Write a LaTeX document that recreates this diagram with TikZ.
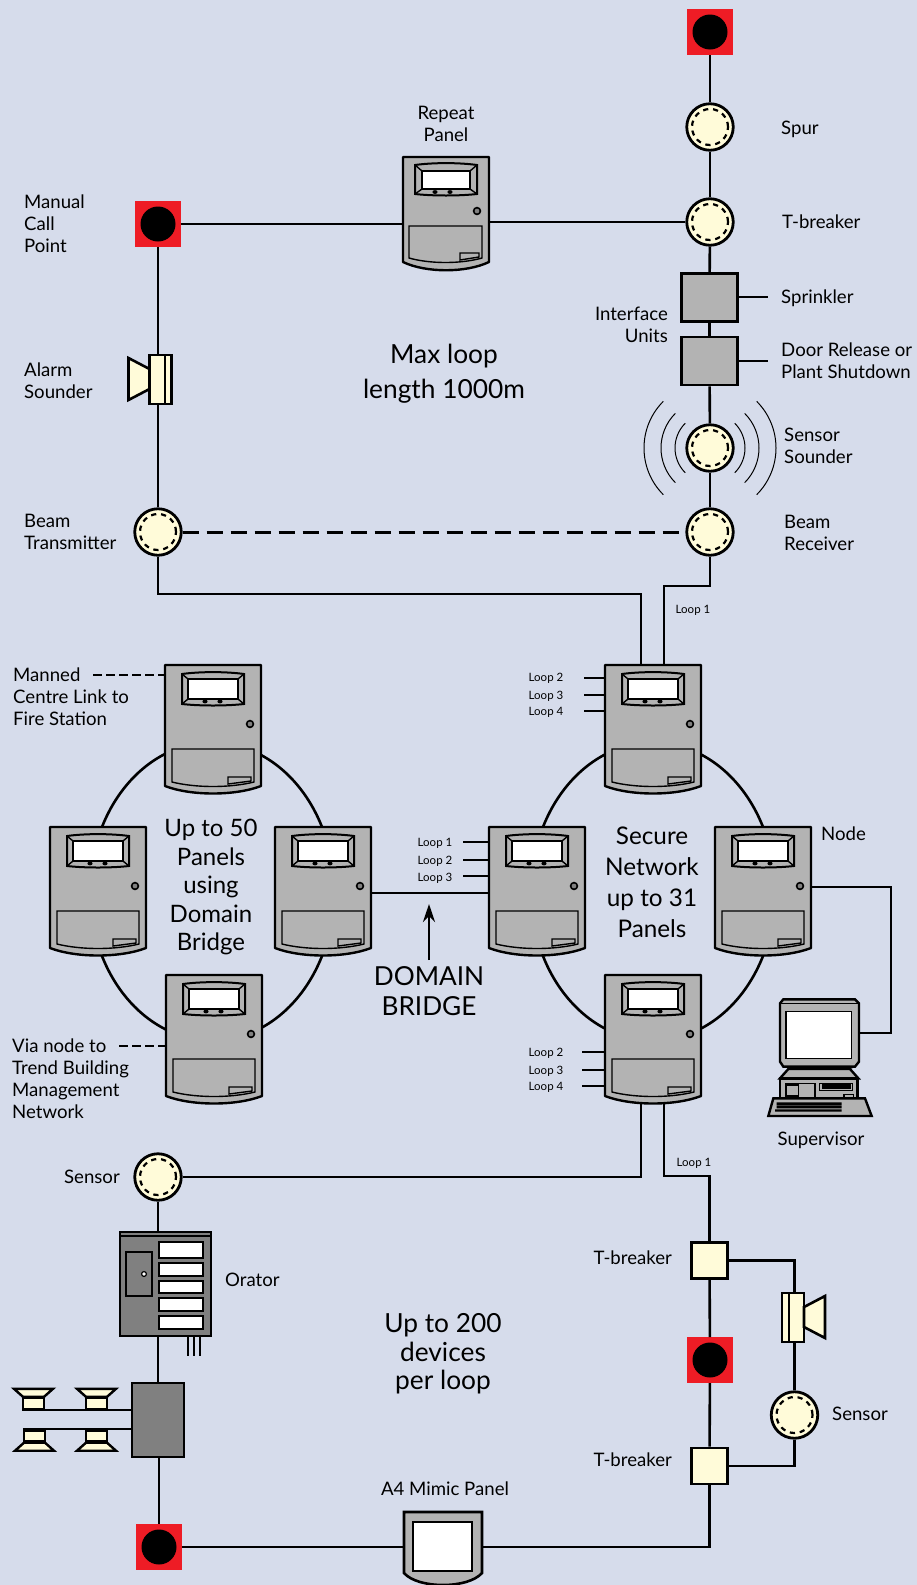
\documentclass[tikz,border=0pt]{standalone}
\usepackage{fontspec}
\setmainfont{Lato}
\usetikzlibrary{positioning,arrows.meta}

\definecolor{paper}{HTML}{D6DCEB}
\definecolor{cream}{HTML}{FFFBD9}
\definecolor{firered}{HTML}{EE1C25}
\definecolor{panelgrey}{HTML}{B3B3B3}
\definecolor{darkgrey}{HTML}{808080}

\tikzset{
    wire/.style={line width=2.6pt},
    dashwire/.style={line width=2.4pt,dash pattern=on 9pt off 4pt},
    beamwire/.style={line width=3pt,dash pattern=on 16pt off 8pt},
    lbl/.style={font=\fontsize{18.6}{22}\selectfont,align=left,anchor=west,inner sep=0pt},
    rlbl/.style={font=\fontsize{18.6}{22}\selectfont,align=right,anchor=east,inner sep=0pt},
    clbl/.style={font=\fontsize{18.6}{22}\selectfont,align=center,inner sep=0pt},
    looplbl/.style={font=\fontsize{11.5}{13}\selectfont,inner sep=0pt},
    bigtxt/.style={font=\fontsize{26.3}{29}\selectfont,align=center,inner sep=0pt},
    sensor/.style={circle,draw,line width=2.8pt,fill=cream,minimum size=46.5pt,inner sep=0pt,
        path picture={\draw[line width=2.2pt,dash pattern=on 5.2pt off 4.8pt] (path picture bounding box.center) circle (18pt);}},
    callpoint/.style={rectangle,fill=firered,minimum size=46pt,inner sep=0pt,outer sep=0pt,
        path picture={\fill[black] (path picture bounding box.center) circle (17.5pt);}},
    ifacebox/.style={rectangle,draw,line width=2.6pt,fill=panelgrey,minimum width=56pt,minimum height=48pt,inner sep=0pt},
    tbreaker/.style={rectangle,draw,line width=2.8pt,fill=cream,minimum size=36pt,inner sep=0pt},
    panelbox/.style={rectangle,minimum width=96pt,minimum height=128pt,inner sep=0pt,outer sep=0pt},
    hornbox/.style={rectangle,draw,line width=2.6pt,fill=cream,minimum width=22pt,minimum height=49pt,inner sep=0pt},
    spkbox/.style={rectangle,draw,line width=2.4pt,fill=cream,minimum width=21pt,minimum height=11pt,inner sep=0pt},
    panelart/.pic={
        \draw[line width=2.4pt,fill=panelgrey,line join=round] (0,0) -- (96,0) -- (96,121) .. controls (70,131) and (26,131) .. (0,121) -- cycle;
        \draw[line width=2pt,fill=panelgrey] (17,9) .. controls (35,6.5) and (61,6.5) .. (79,9) -- (79,39) .. controls (61,41) and (35,41) .. (17,39) -- cycle;
        \draw[line width=1.4pt,fill=white] (23,14) rectangle (73,34);
        \draw[line width=1.4pt] (17,9) -- (23,14) (79,9) -- (73,14) (17,39) -- (23,34) (79,39) -- (73,34);
        \fill (40,36.5) ellipse (2.6 and 1.9) (55,36.5) ellipse (2.6 and 1.9);
        \draw[line width=1.6pt,fill=darkgrey] (85,59) circle (3.4pt);
        \draw[line width=1.4pt] (7,84) -- (89,84) -- (89,117) .. controls (65,123) and (31,123) .. (7,117) -- cycle;
        \draw[line width=1.4pt] (63,112) -- (86,112) -- (86,116) -- (63,119) -- cycle;
    },
    repeatart/.pic={
        \draw[line width=2.4pt,fill=panelgrey,line join=round] (0,0) -- (86,0) -- (86,105) .. controls (63,116) and (23,116) .. (0,105) -- cycle;
        \draw[line width=2pt,fill=panelgrey] (12,8) .. controls (30,5.5) and (56,5.5) .. (74,8) -- (74,37) .. controls (56,39) and (30,39) .. (12,37) -- cycle;
        \draw[line width=1.4pt,fill=white] (19,14) rectangle (67,32);
        \draw[line width=1.4pt] (12,8) -- (19,14) (74,8) -- (67,14) (12,37) -- (19,32) (74,37) -- (67,32);
        \fill (32,35) ellipse (2.6 and 1.9) (47,35) ellipse (2.6 and 1.9);
        \draw[line width=1.6pt,fill=darkgrey] (74,54) circle (3.4pt);
        \draw[line width=1.4pt] (6,69) -- (79,69) -- (79,101) .. controls (58,107) and (27,107) .. (6,101) -- cycle;
        \draw[line width=1.4pt] (57,96) -- (76,96) -- (76,100) -- (57,103) -- cycle;
    },
    hornart/.pic={
        \draw[line width=2.6pt,fill=cream,line join=miter] (11,-10.5) -- (32,-21.5) -- (32,20.5) -- (11,9.5) -- cycle;
        \draw[line width=2pt] (-4,-24.5) -- (-4,24.5);
    },
    spkart/.pic={
        \draw[line width=2.4pt,fill=cream,line join=miter] (-10.5,0) -- (-19.5,-8) -- (19.5,-8) -- (10.5,0) -- cycle;
    },
    pcart/.pic={
        \draw[line width=2pt,fill=panelgrey] (80,230) .. controls (120,250) and (240,250) .. (280,230);
        \draw[line width=2pt] (117,232) -- (117,240) (235,232) -- (235,240);
        \draw[line width=2.4pt,fill=panelgrey] (60,40) -- (70,28) -- (285,28) -- (297,40) -- (297,215) -- (285,230) -- (70,230) -- (60,215) -- cycle;
        \draw[line width=1.6pt] (60,40) -- (297,40);
        \draw[line width=1.6pt,fill=white] (78,65) rectangle (275,205);
        \draw[line width=2.4pt,fill=panelgrey] (60,265) -- (85,237) -- (270,237) -- (295,265) -- cycle;
        \draw[line width=2.4pt,fill=panelgrey] (60,265) rectangle (292,325);
        \draw[line width=1.5pt] (78,280) rectangle (165,322) (80,285) rectangle (115,318);
        \draw[line width=1.5pt] (178,280) rectangle (278,302);
        \fill (185,283) rectangle (272,298);
        \draw[line width=1.5pt] (252,313) rectangle (280,323);
        \draw[line width=2.4pt,fill=panelgrey] (40,325) -- (315,325) -- (335,378) -- (25,378) -- cycle;
        \fill (50,337) rectangle (245,345) (50,347) rectangle (245,355) (45,358) rectangle (245,365);
    },
    oratorart/.pic={
        \draw[line width=1.4pt] (-45.5,-48) -- (45.5,-48);
        \draw[line width=1.6pt] (-39.5,-32) rectangle (-13.5,12);
        \draw[line width=1.2pt,fill=white] (-21.5,-10) circle (2.4pt);
        \draw[line width=1.4pt,fill=white] (-6.5,-42) rectangle (37.5,-26);
        \draw[line width=1.4pt,fill=white] (-6.5,-21) rectangle (37.5,-8);
        \draw[line width=1.4pt,fill=white] (-6.5,-3) rectangle (37.5,9);
        \draw[line width=1.4pt,fill=white] (-6.5,14) rectangle (37.5,27);
        \draw[line width=1.4pt,fill=white] (-6.5,32) rectangle (37.5,45);
    }
}

\newcommand{\panelat}[3]{\node[panelbox] (#1) at (#2,#3) {}; \pic at (#1.north west) {panelart};}

\begin{document}
\begin{tikzpicture}[x=1pt,y=-1pt]
    \useasboundingbox (0,0) rectangle (917,1585);
    \fill[paper] (0,0) rectangle (917,1585);
    % rings behind the panels
    \draw[wire] (212,891.5) ellipse (122 and 149);
    \draw[wire] (653,891.5) ellipse (122 and 149);
    % upper loop
    \node[callpoint] (mcpTop) at (710,32) {};
    \node[sensor] (spurSensor) at (710,127) {};
    \node[sensor] (tbSensor) at (710,222) {};
    \node[ifacebox] (sprinkler) at (709.5,297.5) {};
    \node[ifacebox] (doorRel) at (709.5,361) {};
    \node[sensor] (sndSensor) at (710,448) {};
    \node[sensor] (beamRx) at (710,532) {};
    \node[sensor] (beamTx) at (158,532) {};
    \node[callpoint] (mcpLeft) at (158,224) {};
    \node[panelbox,minimum width=86pt,minimum height=112pt] (repeatPanel) at (446,213) {};
    \pic at (repeatPanel.north west) {repeatart};
    \node[hornbox] (alarmSnd) at (160.5,379.5) {};
    \pic[xscale=-1] at (alarmSnd) {hornart};
    \draw[wire] (mcpTop) -- (spurSensor);
    \draw[wire] (spurSensor) -- (tbSensor);
    \draw[wire] (tbSensor) -- (sprinkler);
    \draw[wire] (sprinkler) -- (doorRel);
    \draw[wire] (doorRel) -- (sndSensor);
    \draw[wire] (sndSensor) -- (beamRx);
    \draw[wire] (tbSensor) -- (repeatPanel.east |- tbSensor);
    \draw[wire] (repeatPanel.west |- mcpLeft) -- (mcpLeft);
    \draw[wire] (mcpLeft) -- (alarmSnd.north -| mcpLeft);
    \draw[wire] (alarmSnd.south -| mcpLeft) -- (beamTx);
    \draw[beamwire] (beamTx) -- (beamRx);
    % sounder waves
    \foreach \r in {35,49,66}{
        \draw[line width=1pt] (sndSensor.center) ++(45:\r pt) arc[start angle=45,end angle=-45,radius=\r pt];
        \draw[line width=1pt] (sndSensor.center) ++(135:\r pt) arc[start angle=135,end angle=225,radius=\r pt];
    }
    % panels
    \panelat{panTL}{213}{729}
    \panelat{panLL}{98}{891}
    \panelat{panLR}{323}{891}
    \panelat{panLB}{214}{1039}
    \panelat{panRT}{653}{729}
    \panelat{panRL}{537}{891}
    \panelat{panRR}{763}{891}
    \panelat{panRB}{653}{1039}
    % wires to the secure network
    \coordinate (feedA) at (641,594);
    \coordinate (feedB) at (664,586);
    \draw[wire] (beamTx) |- (feedA) -- (feedA |- panRT.north);
    \draw[wire] (beamRx) |- (feedB) -- (feedB |- panRT.north);
    \draw[wire] ([yshift=-2pt]panLR.east) -- ([yshift=-2pt]panRL.west);
    \coordinate (arrowEnd) at (429,960);
    \draw[wire,-{Stealth[length=18pt,width=12pt]}] (arrowEnd) -- (429,904);
    % loop ticks
    \node[looplbl] (loopA) at (693,610) {Loop 1};
    \node[looplbl] (loopB) at (546,678) {Loop 2};
    \node[looplbl] (loopC) at (546,696) {Loop 3};
    \node[looplbl] (loopD) at (546,712) {Loop 4};
    \node[looplbl] (loopE) at (435,843) {Loop 1};
    \node[looplbl] (loopF) at (435,861) {Loop 2};
    \node[looplbl] (loopG) at (435,878) {Loop 3};
    \node[looplbl] (loopH) at (546,1053) {Loop 2};
    \node[looplbl] (loopI) at (546,1071) {Loop 3};
    \node[looplbl] (loopJ) at (546,1087) {Loop 4};
    \node[looplbl] (loopK) at (694,1163) {Loop 1};
    \coordinate (tickB) at (584,678);
    \coordinate (tickC) at (584,695);
    \coordinate (tickD) at (584,711);
    \coordinate (tickE) at (463,842);
    \coordinate (tickF) at (463,860);
    \coordinate (tickG) at (463,876);
    \coordinate (tickH) at (582,1052);
    \coordinate (tickI) at (582,1070);
    \coordinate (tickJ) at (582,1086);
    \draw[wire] (tickB) -- (tickB -| panRT.west);
    \draw[wire] (tickC) -- (tickC -| panRT.west);
    \draw[wire] (tickD) -- (tickD -| panRT.west);
    \draw[wire] (tickE) -- (tickE -| panRL.west);
    \draw[wire] (tickF) -- (tickF -| panRL.west);
    \draw[wire] (tickG) -- (tickG -| panRL.west);
    \draw[wire] (tickH) -- (tickH -| panRB.west);
    \draw[wire] (tickI) -- (tickI -| panRB.west);
    \draw[wire] (tickJ) -- (tickJ -| panRB.west);
    % supervisor
    \node[panelbox,minimum width=79pt,minimum height=68pt] (pcBox) at (819.5,1033) {};
    \pic[scale=.3333] at (760,990) {pcart};
    \coordinate (nodeBend) at (891,887);
    \draw[wire] (nodeBend -| panRR.east) -- (nodeBend) |- (pcBox.east);
    % lower loop
    \node[sensor] (sensorB) at (158,1177) {};
    \node[rectangle,draw,line width=2.6pt,fill=darkgrey,minimum width=91pt,minimum height=104pt,inner sep=0pt] (orator) at (165.5,1284) {};
    \pic at (orator) {oratorart};
    \draw[line width=1.8pt] (188,1336) -- (188,1356) (194,1336) -- (194,1356) (200,1336) -- (200,1356);
    \node[rectangle,draw,line width=2.6pt,fill=darkgrey,minimum width=52pt,minimum height=74pt,inner sep=0pt] (driver) at (158,1420) {};
    \node[spkbox] (spkA) at (33.5,1403.5) {};
    \node[spkbox] (spkB) at (96.5,1403.5) {};
    \node[spkbox] (spkC) at (34.5,1436) {};
    \node[spkbox] (spkD) at (96.5,1436) {};
    \pic at (spkA.north) {spkart};
    \pic at (spkB.north) {spkart};
    \pic[yscale=-1] at (spkC.south) {spkart};
    \pic[yscale=-1] at (spkD.south) {spkart};
    \draw[line width=2pt] (spkA.south west) -- (spkA.south west -| driver.west);
    \draw[line width=2pt] (spkC.north west) -- (spkC.north west -| driver.west);
    \node[callpoint] (mcpBase) at (159,1547) {};
    \node[panelbox,minimum width=78pt,minimum height=68pt] (mimic) at (443,1546) {};
    \draw[line width=2.6pt,fill=panelgrey] (mimic.north west) -- (mimic.north east) -- (482,1573) .. controls (468,1589) and (418,1589) .. (404,1573) -- cycle;
    \draw[line width=1.4pt,fill=white] (413,1522) rectangle (472,1571);
    \node[tbreaker] (tbA) at (709.5,1260.5) {};
    \node[callpoint] (mcpRight) at (710,1360) {};
    \node[tbreaker] (tbB) at (709.5,1466) {};
    \node[hornbox] (hornB) at (793,1317.5) {};
    \pic at (hornB) {hornart};
    \node[sensor] (sensorC) at (794.5,1415) {};
    \coordinate (feedC) at (641,1177);
    \coordinate (feedD) at (664,1176);
    \draw[wire] (feedC |- panRB.south) -- (feedC) -- (sensorB);
    \draw[wire] (feedD |- panRB.south) |- (feedD -| tbA) -- (tbA);
    \draw[wire] (tbA) -- (mcpRight);
    \draw[wire] (mcpRight) -- (tbB);
    \draw[wire] (tbA) -| (hornB.north -| sensorC);
    \draw[wire] (hornB.south -| sensorC) -- (sensorC);
    \draw[wire] (sensorC) |- (tbB);
    \draw[wire] (sensorB) -- (orator.north -| sensorB);
    \draw[wire] (orator.south -| sensorB) -- (driver);
    \draw[wire] (driver.south -| mcpBase) -- (mcpBase);
    \draw[wire] (mcpBase) -- (mimic.west |- mcpBase);
    \draw[wire] (mimic.east |- mcpBase) -- (mcpBase -| tbB) -- (tbB);
    % side ticks
    \coordinate (tickM) at (93,675);
    \coordinate (tickV) at (119,1046);
    \draw[dashwire] (tickM) -- (tickM -| panTL.west);
    \draw[dashwire] (tickV) -- (tickV -| panLB.west);
    \coordinate (tickS) at (768,297);
    \coordinate (tickR) at (768,361);
    \draw[wire] (sprinkler.east |- tickS) -- (tickS);
    \draw[wire] (doorRel.east |- tickR) -- (tickR);
    % labels
    \node[lbl] (txtManual) at (24,224) {Manual\\Call\\Point};
    \node[clbl] (txtRepeat) at (446,124) {Repeat\\Panel};
    \node[lbl] (txtSpur) at (781,129) {Spur};
    \node[lbl] (txtTb) at (782,222) {T-breaker};
    \node[lbl] (txtSprk) at (781,298) {Sprinkler};
    \node[lbl] (txtDoor) at (781,361) {Door Release or\\Plant Shutdown};
    \node[rlbl] (txtIface) at (668,325) {Interface\\Units};
    \node[lbl] (txtSnd) at (784,446) {Sensor\\Sounder};
    \node[lbl] (txtRx) at (784,533) {Beam\\Receiver};
    \node[lbl] (txtTx) at (24,532) {Beam\\Transmitter};
    \node[lbl] (txtAlarm) at (24,381) {Alarm\\Sounder};
    \node[bigtxt,font=\fontsize{26.3}{35}\selectfont] (txtMax) at (444,374) {Max loop\\length 1000m};
    \node[lbl] (txtManned) at (13,697) {Manned\\Centre Link to\\Fire Station};
    \node[bigtxt,font=\fontsize{24}{28.5}\selectfont] (txtFifty) at (211,887) {Up to 50\\Panels\\using\\Domain\\Bridge};
    \node[bigtxt,font=\fontsize{24.3}{31}\selectfont] (txtSecure) at (652,882) {Secure\\Network\\up to 31\\Panels};
    \node[lbl] (txtNode) at (821,834) {Node};
    \node[lbl] (txtVia) at (12,1079) {Via node to\\Trend Building\\Management\\Network};
    \node[bigtxt,font=\fontsize{26.2}{30}\selectfont] (txtBridge) at (429,991) {DOMAIN\\BRIDGE};
    \node[clbl] (txtSuper) at (821,1140) {Supervisor};
    \node[rlbl] (txtSensB) at (120,1177) {Sensor};
    \node[lbl] (txtOrator) at (225,1280) {Orator};
    \node[bigtxt,font=\fontsize{26.3}{28.5}\selectfont] (txtDevices) at (443,1354) {Up to 200\\devices\\per loop};
    \node[rlbl] (txtTbA) at (672,1258) {T-breaker};
    \node[rlbl] (txtTbB) at (672,1460) {T-breaker};
    \node[lbl] (txtSensC) at (832,1414) {Sensor};
    \node[clbl] (txtMimic) at (445,1489) {A4 Mimic Panel};
\end{tikzpicture}
\end{document}
